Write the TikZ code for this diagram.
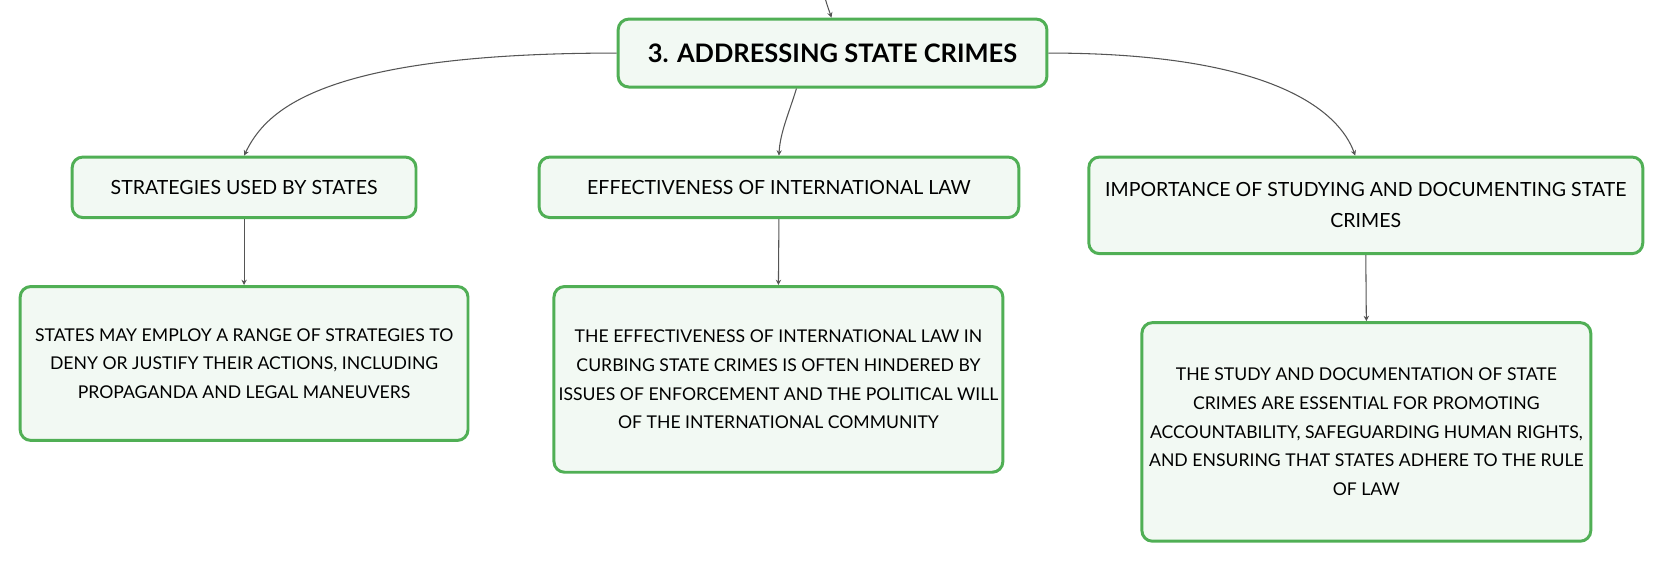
\documentclass[tikz,border=0pt]{standalone}
\usepackage{fontspec}
\setmainfont{Lato}
\usetikzlibrary{arrows.meta}
\definecolor{boxgreen}{RGB}{80,175,85}
\definecolor{boxfill}{RGB}{242,249,243}
\definecolor{linegray}{RGB}{85,85,85}
\begin{document}
\begin{tikzpicture}[x=0.5pt,y=-0.5pt,
  box/.style={draw=boxgreen, line width=1.4pt, fill=boxfill, rounded corners=5pt,
    align=center, inner sep=0pt, font=\fontsize{9.2}{14.5}\selectfont},
  leaf/.style={box, font=\fontsize{8.3}{13.5}\selectfont},
  link/.style={draw=linegray, line width=0.5pt, -{Stealth[length=2.5pt,width=2.5pt]}}]
  \useasboundingbox (0,0) rectangle (1568,530);

  % Raiz
  \node[box, minimum width=202pt, minimum height=32pt, font=\fontsize{12}{14}\selectfont\bfseries]
    (root) at (784.5,50) {3. ADDRESSING STATE CRIMES};
  \coordinate (top) at (778,0);

  % Ramas
  \node[box, minimum width=162pt, minimum height=28.5pt] (strat) at (230,176.5)
    {STRATEGIES USED BY STATES};
  \node[box, minimum width=226pt, minimum height=28.5pt] (eff) at (734,176.5)
    {EFFECTIVENESS OF INTERNATIONAL LAW};
  \node[box, minimum width=261pt, minimum height=45.5pt] (imp) at (1287,193.5)
    {IMPORTANCE OF STUDYING AND DOCUMENTING STATE\\CRIMES};

  % Hojas
  \node[leaf, minimum width=211pt, minimum height=72.5pt] (stratText) at (230,342.5)
    {STATES MAY EMPLOY A RANGE OF STRATEGIES TO\\DENY OR JUSTIFY THEIR ACTIONS, INCLUDING\\PROPAGANDA AND LEGAL MANEUVERS};
  \node[leaf, minimum width=211.5pt, minimum height=87.5pt] (effText) at (733.5,357.5)
    {THE EFFECTIVENESS OF INTERNATIONAL LAW IN\\CURBING STATE CRIMES IS OFTEN HINDERED BY\\ISSUES OF ENFORCEMENT AND THE POLITICAL WILL\\OF THE INTERNATIONAL COMMUNITY};
  \node[leaf, minimum width=211.5pt, minimum height=103pt] (impText) at (1287.5,407)
    {THE STUDY AND DOCUMENTATION OF STATE\\CRIMES ARE ESSENTIAL FOR PROMOTING\\ACCOUNTABILITY, SAFEGUARDING HUMAN RIGHTS,\\AND ENSURING THAT STATES ADHERE TO THE RULE\\OF LAW};

  % Conexiones
  \draw[link] (top) .. controls (780,7) and (782,12) .. ([xshift=-0.5pt]root.north);
  \draw[link] (root.west) .. controls (300,50) and (250,105) .. (strat.north);
  \draw[link] ([xshift=-17pt]root.south) .. controls (744,105) and (735,125) .. (eff.north);
  \draw[link] (root.east) .. controls (1200,50) and (1262,105) .. ([xshift=-5pt]imp.north);
  \draw[link] (strat.south) -- (stratText.north);
  \draw[link] (eff.south) -- (effText.north);
  \draw[link] (imp.south) -- (impText.north);
\end{tikzpicture}
\end{document}
